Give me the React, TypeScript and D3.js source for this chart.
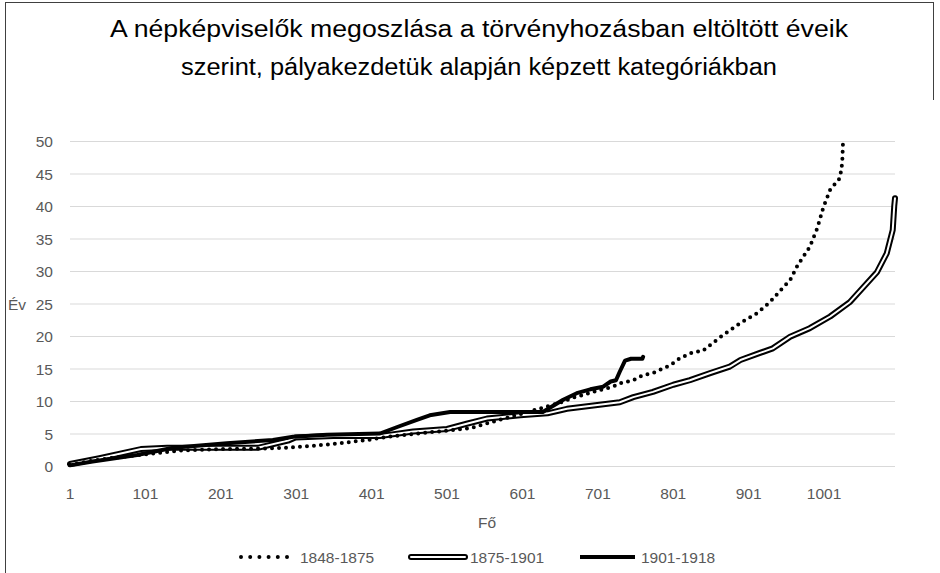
import React from 'react';
import * as d3 from 'd3';

// readings: [fő (index), év]
const series1848: [number, number][] = [
  [1, 0.2], [30, 0.8], [60, 1.3], [100, 1.8], [150, 2.4], [200, 2.6], [260, 2.7],
  [289, 2.8], [323, 3.1], [359, 3.5], [395, 4.0], [430, 4.6], [480, 5.2], [531, 5.8],
  [580, 7.4], [620, 8.7], [650, 9.7], [668, 10.5], [681, 10.9], [695, 11.4], [704, 11.7],
  [721, 12.2], [730, 12.7], [748, 13.2], [761, 14.0], [774, 14.3], [797, 15.5], [810, 16.6],
  [827, 17.5], [840, 17.7], [863, 19.8], [890, 22], [912, 23.5], [929, 25.2], [947, 27.5],
  [956, 28.6], [966, 30.9], [982, 33.7], [992, 36.6], [1000, 39.8], [1009, 42.5],
  [1022, 44.3], [1025, 46.6], [1026, 49.7],
];

const series1875: [number, number][] = [
  [1, 0.3], [40, 1.2], [95, 2.6], [130, 2.8], [200, 2.8], [250, 2.8], [290, 3.9],
  [300, 4.4], [350, 4.6], [412, 4.6], [456, 5.3], [501, 5.7], [527, 6.5], [554, 7.3],
  [598, 7.8], [634, 8.1], [660, 8.8], [695, 9.3], [730, 9.8], [748, 10.6], [774, 11.4],
  [801, 12.5], [823, 13.2], [850, 14.3], [876, 15.3], [890, 16.3], [916, 17.4],
  [933, 18.1], [956, 19.9], [982, 21.2], [1009, 23], [1035, 25.2], [1053, 27.5],
  [1071, 29.8], [1084, 32.7], [1092, 36.3], [1094, 40], [1095, 41.2],
];

const series1901: [number, number][] = [
  [1, 0.1], [31, 0.7], [90, 1.7], [138, 2.8], [209, 3.5], [270, 4.0], [297, 4.5],
  [342, 4.8], [412, 5.0], [435, 6.0], [461, 7.1], [478, 7.8], [505, 8.3], [628, 8.3],
  [655, 10.2], [673, 11.2], [691, 11.8], [708, 12.2], [718, 13], [725, 13.2], [730, 14.5],
  [737, 16.2], [745, 16.5], [760, 16.5], [761, 16.8],
];

const xTicks = [1, 101, 201, 301, 401, 501, 601, 701, 801, 901, 1001];
const yTicks = [0, 5, 10, 15, 20, 25, 30, 35, 40, 45, 50];
const nCategories = 1095;
const titleLines = [
  'A népképviselők megoszlása a törvényhozásban eltöltött éveik',
  'szerint, pályakezdetük alapján képzett kategóriákban',
];
const legendLabels = ['1848-1875', '1875-1901', '1901-1918'];

export default function App() {
  const W = 940;
  const H = 573;
  const x = d3.scaleLinear().domain([1, nCategories]).range([70, 895]);
  const y = d3.scaleLinear().domain([0, 50]).range([466, 141]);
  const line = d3
    .line<[number, number]>()
    .x((d) => x(d[0]))
    .y((d) => y(d[1]));

  const font = "'Liberation Sans', Arial, sans-serif";
  const grey = '#595959';

  return (
    <div style={{ position: 'absolute', left: 0, top: 0 }}>
      <svg width={W} height={H} style={{ display: 'block', background: '#fff' }}>
        {/* frame */}
        <line x1={5.5} x2={5.5} y1={2} y2={H} stroke="#404040" />
        <line x1={5.5} x2={933.5} y1={2.5} y2={2.5} stroke="#404040" />
        <line x1={933.5} x2={933.5} y1={2} y2={100} stroke="#404040" />

        {/* title */}
        <text
          x={479}
          y={37}
          textAnchor="middle"
          fontFamily={font}
          fontSize={23}
          fill="#000"
          textLength={738}
          lengthAdjust="spacingAndGlyphs"
        >
          {titleLines[0]}
        </text>
        <text
          x={479}
          y={75}
          textAnchor="middle"
          fontFamily={font}
          fontSize={23}
          fill="#000"
          textLength={596}
          lengthAdjust="spacingAndGlyphs"
        >
          {titleLines[1]}
        </text>

        {/* gridlines + y labels */}
        {yTicks.map((t) => (
          <g key={t}>
            <line x1={70} x2={895} y1={y(t) + 0.5} y2={y(t) + 0.5} stroke="#d9d9d9" strokeWidth={1} />
            <text
              x={53}
              y={y(t) + 6}
              textAnchor="end"
              fontFamily={font}
              fontSize={15.5}
              fill={grey}
            >
              {t}
            </text>
          </g>
        ))}
        <text x={8} y={y(25) + 6} fontFamily={font} fontSize={15.5} fill={grey}>
          Év
        </text>

        {/* x labels */}
        {xTicks.map((t) => (
          <text
            key={t}
            x={x(t)}
            y={499}
            textAnchor="middle"
            fontFamily={font}
            fontSize={15.5}
            fill={grey}
          >
            {t}
          </text>
        ))}
        <text x={487} y={528} textAnchor="middle" fontFamily={font} fontSize={15.5} fill={grey}>
          Fő
        </text>

        {/* 1875-1901 double line */}
        <path d={line(series1875) || ''} fill="none" stroke="#000" strokeWidth={6} strokeLinejoin="round" strokeLinecap="round" />
        <path d={line(series1875) || ''} fill="none" stroke="#fff" strokeWidth={2} strokeLinejoin="round" strokeLinecap="round" />

        {/* 1901-1918 solid */}
        <path d={line(series1901) || ''} fill="none" stroke="#000" strokeWidth={4} strokeLinejoin="round" strokeLinecap="round" />

        {/* 1848-1875 dotted */}
        <path
          d={line(series1848) || ''}
          fill="none"
          stroke="#000"
          strokeWidth={4}
          strokeDasharray="0 7"
          strokeLinecap="round"
          strokeLinejoin="round"
        />

        {/* legend */}
        <line x1={241} x2={287} y1={557} y2={557} stroke="#000" strokeWidth={4} strokeDasharray="0 9.2" strokeLinecap="round" />
        <text x={300} y={563} fontFamily={font} fontSize={15.5} fill={grey}>
          {legendLabels[0]}
        </text>
        <line x1={411} x2={465} y1={557} y2={557} stroke="#000" strokeWidth={6} strokeLinecap="round" />
        <line x1={411} x2={465} y1={557} y2={557} stroke="#fff" strokeWidth={2} strokeLinecap="round" />
        <text x={470} y={563} fontFamily={font} fontSize={15.5} fill={grey}>
          {legendLabels[1]}
        </text>
        <line x1={580} x2={635} y1={557} y2={557} stroke="#000" strokeWidth={4} />
        <text x={641} y={563} fontFamily={font} fontSize={15.5} fill={grey}>
          {legendLabels[2]}
        </text>
      </svg>
    </div>
  );
}
